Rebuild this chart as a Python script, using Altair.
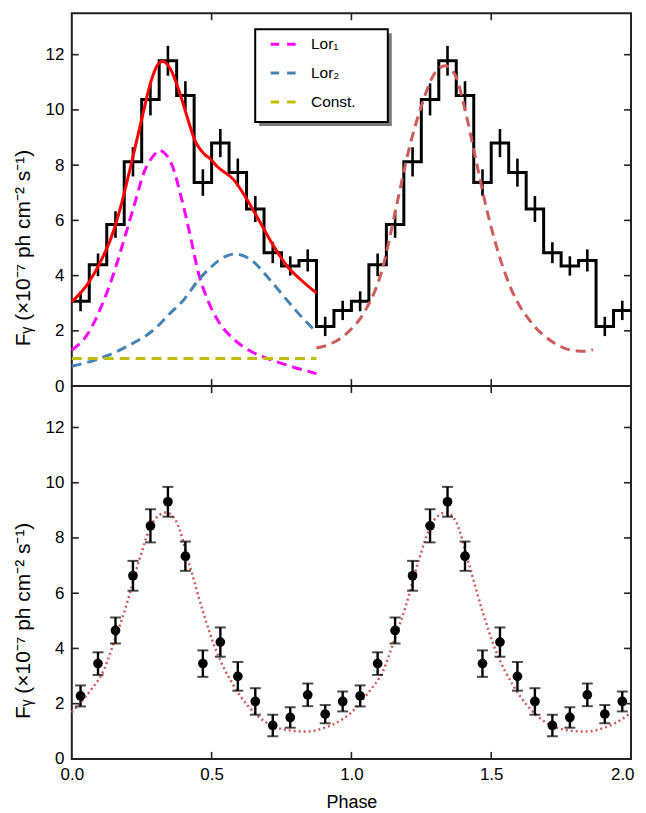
import altair as alt
import pandas as pd

FONT = "Liberation Sans"
W, H = 561, 374

# ---------------- data ----------------
# Top panel: binned light curve, 16 bins per cycle (left edges), flux and 1-sigma errors
bin_left = [0.0, 0.0625, 0.125, 0.1875, 0.25, 0.3125, 0.375, 0.4375,
            0.5, 0.5625, 0.625, 0.6875, 0.75, 0.8125, 0.875, 0.9375]
bin_half = 0.03125
bin_flux = [3.07, 4.39, 5.85, 8.12, 10.38, 11.78, 10.52, 7.37,
            8.80, 7.73, 6.41, 4.83, 4.35, 4.55, 2.16, 2.74]
bin_err = [0.36, 0.41, 0.48, 0.53, 0.58, 0.54, 0.52, 0.48,
           0.51, 0.51, 0.47, 0.38, 0.35, 0.40, 0.35, 0.35]

# Fit (red solid), first cycle
fit_phase = [0.0, 0.059, 0.106, 0.142, 0.178, 0.213, 0.249, 0.284, 0.305, 0.325,
             0.356, 0.391, 0.420, 0.438, 0.474, 0.493, 0.521, 0.581, 0.628, 0.676,
             0.723, 0.771, 0.819, 0.875]
fit_flux = [3.05, 3.73, 4.57, 5.41, 6.61, 8.06, 9.62, 11.06, 11.60, 11.76,
            11.42, 10.46, 9.50, 8.95, 8.40, 8.25, 7.94, 7.45, 6.73, 5.89,
            5.05, 4.33, 3.85, 3.37]

# Components (dashed)
lor1_phase = [0.0, 0.059, 0.106, 0.154, 0.190, 0.225, 0.261, 0.297, 0.311, 0.356,
              0.391, 0.427, 0.450, 0.486, 0.521, 0.581, 0.640, 0.711, 0.782, 0.875]
lor1_flux = [1.30, 1.92, 2.89, 4.21, 5.41, 6.61, 7.81, 8.40, 8.54, 8.06,
             6.85, 5.29, 4.21, 3.12, 2.40, 1.68, 1.26, 0.96, 0.72, 0.45]
lor2_phase = [0.0, 0.1, 0.2, 0.3, 0.35, 0.4, 0.45, 0.5, 0.55, 0.58,
              0.6, 0.65, 0.7, 0.75, 0.8, 0.875]
lor2_flux = [0.72, 1.00, 1.45, 2.10, 2.62, 3.12, 3.80, 4.33, 4.70, 4.78,
             4.76, 4.50, 3.95, 3.35, 2.75, 1.95]
const_phase = [0.0, 0.875]
const_flux = [1.0, 1.0]

# Second-cycle model (brown dashed)
mod_phase = [0.875, 0.932, 0.991, 1.051, 1.110, 1.158, 1.205, 1.253, 1.300, 1.336,
             1.372, 1.407, 1.443, 1.479, 1.526, 1.573, 1.645, 1.716, 1.787, 1.835, 1.864]
mod_flux = [1.38, 1.56, 1.98, 2.76, 4.21, 6.37, 8.54, 10.22, 11.36, 11.60,
            11.24, 9.98, 8.30, 6.61, 4.81, 3.48, 2.28, 1.62, 1.30, 1.26, 1.32]

# Bottom panel: points at bin centres, one cycle (repeated for the second)
pt_flux = [2.28, 3.45, 4.65, 6.63, 8.44, 9.31, 7.34, 3.45,
           4.23, 2.99, 2.08, 1.21, 1.50, 2.32, 1.62, 2.08]
pt_err = [0.38, 0.41, 0.47, 0.54, 0.60, 0.54, 0.53, 0.48,
          0.53, 0.52, 0.48, 0.39, 0.37, 0.41, 0.33, 0.36]

# Bottom dotted model, one cycle
dot_phase = [0.0, 0.031, 0.070, 0.113, 0.148, 0.196, 0.243, 0.291, 0.338, 0.374,
             0.421, 0.469, 0.517, 0.576, 0.635, 0.695, 0.766, 0.837, 0.908, 0.968]
dot_flux = [1.68, 2.04, 2.52, 3.18, 4.14, 5.59, 7.26, 8.59, 8.92, 8.59,
            7.03, 5.34, 3.90, 2.70, 1.86, 1.32, 1.05, 0.99, 1.14, 1.44]

comp_names = ["Lor\u2081", "Lor\u2082", "Const."]
comp_colors = ["#ff00ff", "#4682b4", "#bfbf00"]

y_ticks = [0, 2, 4, 6, 8, 10, 12]
x_ticks = [0.0, 0.5, 1.0, 1.5, 2.0]
x_inner_ticks = [0.5, 1.0, 1.5]
y_title = "F\u1d67 (\u00d710\u207b\u2077 ph cm\u207b\u00b2 s\u207b\u00b9)"

# ---------------- tables ----------------
hist_df = pd.DataFrame({
    "phase": bin_left + [b + 1 for b in bin_left] + [2.0],
    "flux": bin_flux + bin_flux + [bin_flux[-1]],
})
centers = [b + bin_half for b in bin_left]
err_df = pd.DataFrame({
    "phase": centers + [c + 1 for c in centers],
    "lo": [f - e for f, e in zip(bin_flux, bin_err)] * 2,
    "hi": [f + e for f, e in zip(bin_flux, bin_err)] * 2,
})
fit_df = pd.DataFrame({"phase": fit_phase, "flux": fit_flux})
comp_df = pd.concat([
    pd.DataFrame({"phase": lor1_phase, "flux": lor1_flux, "name": comp_names[0]}),
    pd.DataFrame({"phase": lor2_phase, "flux": lor2_flux, "name": comp_names[1]}),
    pd.DataFrame({"phase": const_phase, "flux": const_flux, "name": comp_names[2]}),
])
mod_df = pd.DataFrame({"phase": mod_phase, "flux": mod_flux})

pt_df = pd.DataFrame({
    "phase": centers + [c + 1 for c in centers],
    "flux": pt_flux * 2,
    "lo": [f - e for f, e in zip(pt_flux, pt_err)] * 2,
    "hi": [f + e for f, e in zip(pt_flux, pt_err)] * 2,
})
dot_df = pd.DataFrame({
    "phase": dot_phase + [p + 1 for p in dot_phase] + [2.0],
    "flux": dot_flux + dot_flux + [dot_flux[0]],
})
yt_df = pd.DataFrame({"t": y_ticks})
xt_df = pd.DataFrame({"t": x_inner_ticks})
one = pd.DataFrame({"k": [0]})

# ---------------- scales / axes ----------------
xs = alt.Scale(domain=[0, 2], nice=False, zero=False)
ys = alt.Scale(domain=[0, 13.5], nice=False, zero=False)

Y_AXIS = alt.Axis(values=y_ticks, ticks=False, domain=False, grid=False,
                  labelPadding=8, title=y_title, titleX=-42, titleY=235,
                  titleAlign="center", titleBaseline="alphabetic", titleAngle=270,
                  titleFontSize=21)
X_AXIS_BOT = alt.Axis(
    values=x_ticks, format=".1f", ticks=False, domain=False, grid=False,
    labelPadding=7.5, labelFlush=False,
    labelAlign={"condition": {"test": "datum.value >= 2", "value": "right"},
                "value": "center"},
    labelOffset={"condition": {"test": "datum.value >= 2", "value": 3},
                 "value": 0},
    title="Phase", titlePadding=11, titleFontSize=18)


def panel(x_axis):
    def X(field="phase"):
        return alt.X(f"{field}:Q", scale=xs, axis=x_axis)

    def Y(field="flux"):
        return alt.Y(f"{field}:Q", scale=ys, axis=Y_AXIS)

    def ticks():
        c = "#222"
        tl = alt.Chart(yt_df).mark_rule(color=c, strokeWidth=1.6).encode(
            y=Y("t"), x=alt.value(0), x2=alt.value(7))
        tr = alt.Chart(yt_df).mark_rule(color=c, strokeWidth=1.6).encode(
            y=Y("t"), x=alt.value(W - 7), x2=alt.value(W))
        tb = alt.Chart(xt_df).mark_rule(color=c, strokeWidth=1.6).encode(
            x=X("t"), y=alt.value(H - 7), y2=alt.value(H))
        tt = alt.Chart(xt_df).mark_rule(color=c, strokeWidth=1.6).encode(
            x=X("t"), y=alt.value(0), y2=alt.value(7))
        return [tl, tr, tb, tt]

    return X, Y, ticks


# ---------------- top panel ----------------
X, Y, ticks = panel(None)
hist = alt.Chart(hist_df).mark_line(interpolate="step-after", color="black",
                                    strokeWidth=3).encode(x=X(), y=Y())
herr = alt.Chart(err_df).mark_rule(color="black", strokeWidth=2.6).encode(
    x=X(), y=Y("lo"), y2="hi:Q")
comps = alt.Chart(comp_df).mark_line(strokeWidth=3, strokeDash=[10, 6],
                                     interpolate="monotone").encode(
    x=X(), y=Y(),
    color=alt.Color("name:N",
                    scale=alt.Scale(domain=comp_names, range=comp_colors),
                    legend=alt.Legend(orient="none", legendX=198, legendY=17,
                                      title=None, symbolType="stroke",
                                      symbolSize=625, symbolStrokeWidth=3,
                                      symbolDash=[8.5, 8], padding=0,
                                      labelFont=FONT, labelFontSize=15.5,
                                      labelColor="black", labelOffset=14,
                                      rowPadding=6)))
fit = alt.Chart(fit_df).mark_line(color="#ff0000", strokeWidth=3,
                                  interpolate="monotone").encode(x=X(), y=Y())
model = alt.Chart(mod_df).mark_line(color="#cd5c5c", strokeWidth=3,
                                    strokeDash=[10, 6],
                                    interpolate="monotone").encode(x=X(), y=Y())
shadow = alt.Chart(one).mark_rect(color="#7a7a7a").encode(
    x=alt.value(188), x2=alt.value(321), y=alt.value(20), y2=alt.value(113))
box = alt.Chart(one).mark_rect(fill="white", stroke="black", strokeWidth=2).encode(
    x=alt.value(184), x2=alt.value(317), y=alt.value(16), y2=alt.value(109))

top = alt.layer(hist, shadow, box, herr, comps, fit, model,
                *ticks()).properties(width=W, height=H)

# ---------------- bottom panel ----------------
X, Y, ticks = panel(X_AXIS_BOT)
dots = alt.Chart(dot_df).mark_line(color="#cd5c5c", strokeWidth=2.5,
                                   strokeDash=[2, 3],
                                   interpolate="monotone").encode(x=X(), y=Y())
perr = alt.Chart(pt_df).mark_rule(color="black", strokeWidth=2.4).encode(
    x=X(), y=Y("lo"), y2="hi:Q")
cap_lo = alt.Chart(pt_df).mark_tick(color="black", orient="horizontal",
                                    size=11, thickness=2).encode(x=X(), y=Y("lo"))
cap_hi = alt.Chart(pt_df).mark_tick(color="black", orient="horizontal",
                                    size=11, thickness=2).encode(x=X(), y=Y("hi"))
pts = alt.Chart(pt_df).mark_circle(color="black", size=95, opacity=1).encode(
    x=X(), y=Y())

bottom = alt.layer(dots, perr, cap_lo, cap_hi, pts,
                   *ticks()).properties(width=W, height=H)

chart = alt.vconcat(top, bottom, spacing=0, bounds="flush").properties(
    padding={"left": 4, "top": 2, "right": 0, "bottom": 0}
).configure_view(stroke="#222", strokeWidth=2).configure_axis(
    labelFont=FONT, labelFontSize=17, labelColor="black",
    titleFont=FONT, titleFontWeight="normal", titleColor="black"
)

chart.save("out.html", embed_options={"renderer": "svg", "actions": False})
